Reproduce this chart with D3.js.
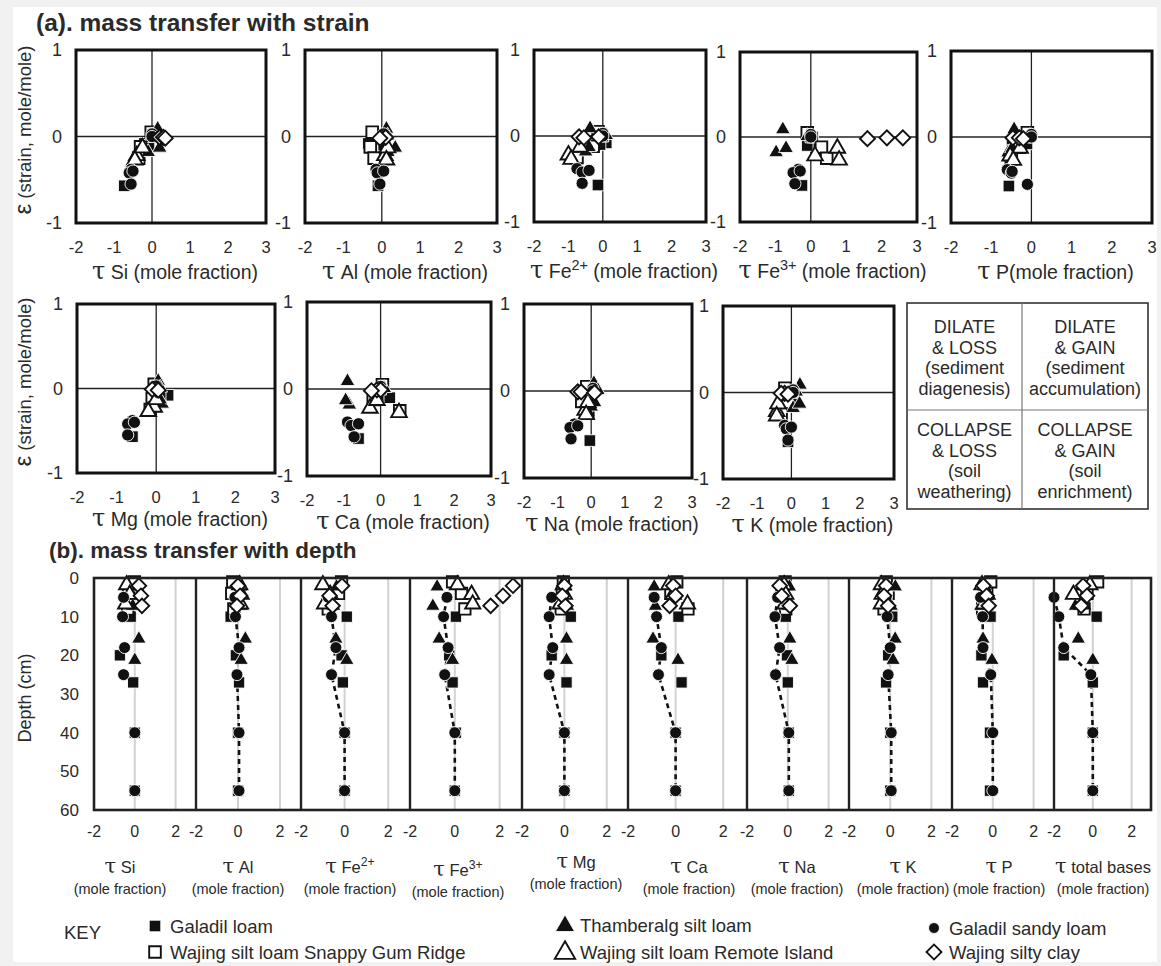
<!DOCTYPE html>
<html>
<head>
<meta charset="utf-8">
<script src="https://cdn.jsdelivr.net/npm/d3@7"></script>
<style>
  body { margin: 0; background: #fff; }
  svg text { font-family: "Liberation Sans", Arial, sans-serif; fill: #2a2a2a; }
</style>
</head>
<body>
<svg id="fig" width="1161" height="966"></svg>
<script>
// ------------------------------------------------------------------
// Data: tau (mole fraction) per element, strain and depth per sample
// element order for every tau row below
const elements = ["Si", "Al", "Fe2+", "Fe3+", "Mg", "Ca", "Na", "K", "P", "total bases"];

const seriesNames = [
  "Galadil loam",
  "Wajing silt loam Snappy Gum Ridge",
  "Thamberalg silt loam",
  "Wajing silt loam Remote Island",
  "Galadil sandy loam",
  "Wajing silty clay"
];
const seriesSymbols = ["square", "square", "triangle", "triangle", "circle", "diamond"];
const seriesFilled  = [true, false, true, false, true, false];

// Galadil loam
const galadilLoamDepth  = [10, 20, 27, 40, 55];
const galadilLoamStrain = [-0.08, -0.57, -0.1, 0, 0];
const galadilLoamTau = [
  [-0.2, -0.73, -0.08, 0, 0],      // Si
  [-0.35, -0.1, 0.05, 0, 0],       // Al
  [0.1, -0.14, -0.08, 0, 0],       // Fe2+
  [0.05, -0.25, -0.1, 0.05, 0],    // Fe3+
  [0.3, -0.6, 0.1, 0, 0],          // Mg
  [0.12, -0.6, 0.25, 0, 0],        // Ca
  [-0.1, -0.04, 0, 0.05, 0.05],    // Na
  [0.1, -0.1, -0.2, 0, 0],         // K
  [-0.11, -0.56, -0.48, -0.14, -0.14], // P
  [0.2, -1.5, 0, 0, 0]             // total bases
];

// Wajing silt loam, Snappy Gum Ridge
const snappyGumDepth  = [1, 4, 8];
const snappyGumStrain = [0.05, -0.12, -0.25];
const snappyGumTau = [
  [-0.02, -0.3, -0.35],
  [-0.25, -0.3, -0.2],
  [-0.14, -0.28, -0.75],
  [-0.1, 0.3, 0.45],
  [-0.05, -0.1, -0.15],
  [0.05, -0.2, 0.52],
  [-0.13, -0.28, -0.1],
  [-0.19, -0.1, -0.3],
  [-0.1, -0.3, -0.5],
  [0.25, -0.3, -0.45]
];

// Thamberalg silt loam
const thamberalgDepth  = [2, 7, 15.5, 21];
const thamberalgStrain = [0.1, -0.17, -0.12, 0.02];
const thamberalgTau = [
  [0.15, -0.1, 0.2, 0],
  [0.12, 0.16, 0.35, 0.15],
  [-0.37, -0.5, -0.4, 0.1],
  [-0.79, -0.98, -0.7, -0.1],
  [0.05, 0.15, 0.1, 0.1],
  [-0.9, -0.85, -0.95, 0.1],
  [0.08, 0.0, 0.1, 0.2],
  [0.25, 0.05, 0.24, 0.14],
  [-0.43, -0.58, -0.48, -0.04],
  [-0.6, -0.9, -0.75, 0]
];

// Wajing silt loam, Remote Island
const remoteIslandDepth  = [1.5, 4, 6.5];
const remoteIslandStrain = [-0.21, -0.12, -0.26];
const remoteIslandTau = [
  [-0.4, -0.25, -0.45],
  [0.08, 0.15, 0.12],
  [-1.0, -0.66, -0.92],
  [0.12, 0.75, 0.8],
  [-0.05, 0.0, -0.2],
  [-0.29, -0.1, 0.5],
  [-0.18, -0.1, -0.15],
  [-0.43, -0.39, -0.43],
  [-0.53, -0.28, -0.45],
  [-0.15, -1.0, -0.55]
];

// Galadil sandy loam (profile traced with a dashed line)
const galadilSandyDepth  = [5, 10, 18, 25, 40, 55];
const galadilSandyStrain = [-0.38, -0.42, -0.40, -0.55, 0.03, 0];
const galadilSandyTau = [
  [-0.55, -0.6, -0.5, -0.55, 0, 0],
  [-0.15, -0.12, 0.05, -0.05, 0.05, 0.05],
  [-0.75, -0.6, -0.4, -0.6, 0, 0],
  [-0.35, -0.5, -0.3, -0.45, 0, 0],
  [-0.6, -0.72, -0.55, -0.72, 0, 0],
  [-0.9, -0.8, -0.6, -0.72, 0, 0],
  [-0.5, -0.63, -0.4, -0.6, 0.05, 0.05],
  [-0.2, -0.15, 0.0, -0.1, 0.05, 0.05],
  [-0.6, -0.5, -0.48, -0.1, 0, 0],
  [-2.0, -1.75, -1.5, -0.1, 0, 0]
];

// Wajing silty clay
const siltyClayDepth  = [2, 4.6, 7.2];
const siltyClayStrain = [-0.01, -0.01, -0.02];
const siltyClayTau = [
  [0.2, 0.3, 0.35],
  [0.0, 0.1, -0.05],
  [-0.12, -0.69, -0.55],
  [2.6, 2.15, 1.6],
  [0.0, -0.1, 0.05],
  [-0.1, 0.0, -0.25],
  [-0.4, -0.3, 0.1],
  [-0.2, -0.3, -0.1],
  [-0.46, -0.3, -0.2],
  [-0.5, -0.3, -0.6]
];

const seriesDepth  = [galadilLoamDepth, snappyGumDepth, thamberalgDepth, remoteIslandDepth, galadilSandyDepth, siltyClayDepth];
const seriesStrain = [galadilLoamStrain, snappyGumStrain, thamberalgStrain, remoteIslandStrain, galadilSandyStrain, siltyClayStrain];
const seriesTau    = [galadilLoamTau, snappyGumTau, thamberalgTau, remoteIslandTau, galadilSandyTau, siltyClayTau];
const profileSeries = 4;            // series joined by the dashed depth profile

const strainTicks = [1, 0, -1];
const tauTicksStrain = [-2, -1, 0, 1, 2, 3];
const tauTicksDepth = [-2, 0, 2];
const depthTicks = [0, 10, 20, 30, 40, 50, 60];

const quadrantText = [
  ["DILATE", "& LOSS", "(sediment", "diagenesis)"],
  ["DILATE", "& GAIN", "(sediment", "accumulation)"],
  ["COLLAPSE", "& LOSS", "(soil", "weathering)"],
  ["COLLAPSE", "& GAIN", "(soil", "enrichment)"]
];

// ------------------------------------------------------------------
const W = 1161, H = 966;
const svg = d3.select("#fig");
svg.append("rect").attr("width", W).attr("height", H).attr("fill", "#f1f1f1");
svg.append("rect").attr("x", 13).attr("y", 7).attr("width", 1144).attr("height", 955).attr("fill", "#fff");

const symbolType = { square: d3.symbolSquare, triangle: d3.symbolTriangle, circle: d3.symbolCircle, diamond: d3.symbolSquare };
const filledArea = { square: 135, triangle: 95, circle: 118, diamond: 110 };
const openArea   = { square: 135, triangle: 105, circle: 118, diamond: 112 };

function marker(g, kind, filled, x, y, k) {
  const area = (filled ? filledArea : openArea)[kind] * k;
  g.append("path")
    .attr("d", d3.symbol(symbolType[kind], area)())
    .attr("transform", `translate(${x},${y})` + (kind === "diamond" ? " rotate(45)" : "") + (kind === "triangle" ? " translate(0,1)" : ""))
    .attr("fill", filled ? "#111" : "#fff")
    .attr("stroke", filled ? "#fff" : "#111")
    .attr("stroke-width", filled ? 0.9 : 1.9);
}

// τ + element name with charge as superscript
function tauLabel(text, label, size, tauSize, suffix, supShift) {
  text.append("tspan").attr("font-family", "'DejaVu Serif', serif").attr("font-size", tauSize).text("τ");
  const m = label.match(/^(.*?)(\d\+)?$/);
  text.append("tspan").text(" " + m[1]);
  if (m[2]) {
    text.append("tspan").attr("dy", -supShift).attr("font-size", size * 0.74).text(m[2]);
    if (suffix) text.append("tspan").attr("dy", supShift).text(suffix);
  } else if (suffix) {
    text.append("tspan").text(suffix);
  }
}

// ------------------------------------------------------------------
// (a) strain vs tau panels
svg.append("text").attr("x", 36).attr("y", 31)
  .attr("font-size", 24.5).attr("font-weight", "bold").attr("fill", "#1e1e1e")
  .text("(a). mass transfer with strain");

const strainPanels = [
  { el: 0, x0: 76,  x1: 266,  y0: 50,  y1: 223, suffix: " (mole fraction)" },
  { el: 1, x0: 305, x1: 497,  y0: 50,  y1: 223, suffix: " (mole fraction)" },
  { el: 2, x0: 534, x1: 706,  y0: 50,  y1: 222, suffix: " (mole fraction)" },
  { el: 3, x0: 740, x1: 917,  y0: 52,  y1: 222, suffix: " (mole fraction)" },
  { el: 8, x0: 951, x1: 1152, y0: 51,  y1: 223, suffix: "(mole fraction)" },
  { el: 4, x0: 77,  x1: 275,  y0: 304, y1: 473, suffix: " (mole fraction)" },
  { el: 5, x0: 307, x1: 491,  y0: 302, y1: 476, suffix: " (mole fraction)" },
  { el: 6, x0: 524, x1: 692,  y0: 304, y1: 478, suffix: " (mole fraction)" },
  { el: 7, x0: 723, x1: 894,  y0: 306, y1: 479, suffix: " (mole fraction)" }
];

strainPanels.forEach((p, pi) => {
  const x = d3.scaleLinear().domain([-2, 3]).range([p.x0, p.x1]);
  const y = d3.scaleLinear().domain([-1, 1]).range([p.y1, p.y0]);
  const g = svg.append("g");

  g.append("line").attr("x1", x(0)).attr("x2", x(0)).attr("y1", p.y0).attr("y2", p.y1)
    .attr("stroke", "#222").attr("stroke-width", 1.3);
  g.append("line").attr("x1", p.x0).attr("x2", p.x1).attr("y1", y(0)).attr("y2", y(0))
    .attr("stroke", "#222").attr("stroke-width", 1.3);

  const pts = g.append("g");
  seriesTau.forEach((tau, s) => {
    tau[p.el].forEach((t, i) => {
      marker(pts, seriesSymbols[s], seriesFilled[s], x(t), y(seriesStrain[s][i]), 1);
    });
  });

  g.append("rect").attr("x", p.x0).attr("y", p.y0).attr("width", p.x1 - p.x0).attr("height", p.y1 - p.y0)
    .attr("fill", "none").attr("stroke", "#111").attr("stroke-width", 3);

  tauTicksStrain.forEach(v => {
    g.append("text").attr("x", x(v)).attr("y", p.y1 + 30).attr("text-anchor", "middle")
      .attr("font-size", 16.5).attr("fill", "#3a3a3a").text(v);
  });
  strainTicks.forEach(v => {
    g.append("text").attr("x", p.x0 - 14).attr("y", y(v) + 6).attr("text-anchor", "end")
      .attr("font-size", 18).attr("fill", "#3a3a3a").text(v);
  });

  const t = g.append("text").attr("x", (p.x0 + p.x1) / 2 + 4).attr("y", p.y1 + (pi < 5 ? 56 : 53))
    .attr("text-anchor", "middle").attr("font-size", 19.5).attr("fill", "#222");
  tauLabel(t, elements[p.el], 19.5, 24, p.suffix, 8);
});

// strain axis titles
[130, 382].forEach(cy => {
  const t = svg.append("text").attr("transform", `translate(31,${cy}) rotate(-90)`)
    .attr("text-anchor", "middle").attr("font-size", 18.5).attr("fill", "#222");
  t.append("tspan").attr("font-size", 24).text("ε");
  t.append("tspan").text(" (strain, mole/mole)");
});

// quadrant interpretation box
const qb = { x0: 907, x1: 1148, y0: 303, y1: 509, xm: 1022, ym: 410 };
svg.append("rect").attr("x", qb.x0).attr("y", qb.y0).attr("width", qb.x1 - qb.x0).attr("height", qb.y1 - qb.y0)
  .attr("fill", "#fff").attr("stroke", "#333").attr("stroke-width", 1.6);
svg.append("line").attr("x1", qb.xm).attr("x2", qb.xm).attr("y1", qb.y0).attr("y2", qb.y1).attr("stroke", "#777").attr("stroke-width", 1.2);
svg.append("line").attr("x1", qb.x0).attr("x2", qb.x1).attr("y1", qb.ym).attr("y2", qb.ym).attr("stroke", "#777").attr("stroke-width", 1.2);
quadrantText.forEach((lines, q) => {
  const cx = q % 2 === 0 ? (qb.x0 + qb.xm) / 2 : (qb.xm + qb.x1) / 2;
  const top = q < 2 ? 333 : 436;
  lines.forEach((ln, i) => {
    svg.append("text").attr("x", cx).attr("y", top + i * 20.5).attr("text-anchor", "middle")
      .attr("font-size", 18).attr("fill", "#2a2a2a").text(ln);
  });
});

// ------------------------------------------------------------------
// (b) tau vs depth panels
svg.append("text").attr("x", 49).attr("y", 558)
  .attr("font-size", 22.5).attr("font-weight", "bold").attr("fill", "#1e1e1e")
  .text("(b). mass transfer with depth");

const depthEdges = [94, 196, 301, 410, 522, 628, 747, 849, 952, 1054, 1151];
const depthTop = 578, depthBottom = 810;
const yD = d3.scaleLinear().domain([0, 60]).range([depthTop, depthBottom]);
const titleCenters = [120, 238, 350, 458, 576, 689, 797, 903, 999, 1103];
const titleDrop = [0, 0, 0, 3, -5, 0, 0, 0, 0, 0];

const depthG = svg.append("g");
elements.forEach((el, e) => {
  const x = d3.scaleLinear().domain([-2, 3]).range([depthEdges[e], depthEdges[e + 1]]);
  const g = depthG.append("g");
  [0, 2].forEach(v => {
    g.append("line").attr("x1", x(v)).attr("x2", x(v)).attr("y1", depthTop).attr("y2", depthBottom)
      .attr("stroke", "#d2d2d2").attr("stroke-width", 2);
  });

  if (e !== 0) {
    const d = seriesDepth[profileSeries];
    const line = d3.line().x((v, i) => x(v)).y((v, i) => yD(d[i]));
    g.append("path").attr("d", line(seriesTau[profileSeries][e]))
      .attr("fill", "none").attr("stroke", "#111").attr("stroke-width", 2.6).attr("stroke-dasharray", "5,4");
  }

  seriesTau.forEach((tau, s) => {
    tau[e].forEach((t, i) => {
      marker(g, seriesSymbols[s], seriesFilled[s], x(t), yD(seriesDepth[s][i]), 0.95);
    });
  });

  tauTicksDepth.forEach(v => {
    depthG.append("text").attr("x", x(v)).attr("y", 837).attr("text-anchor", "middle")
      .attr("font-size", 16).attr("fill", "#3a3a3a").text(v);
  });

  const t1 = depthG.append("text").attr("x", titleCenters[e]).attr("y", 873 + titleDrop[e])
    .attr("text-anchor", "middle").attr("font-size", 16.5).attr("fill", "#222");
  tauLabel(t1, el, 16.5, 21, "", 7);
  depthG.append("text").attr("x", titleCenters[e]).attr("y", 894 + titleDrop[e])
    .attr("text-anchor", "middle").attr("font-size", 14.5).attr("fill", "#222").text("(mole fraction)");
});

// frame and panel dividers
depthG.append("rect").attr("x", depthEdges[0]).attr("y", depthTop)
  .attr("width", depthEdges[depthEdges.length - 1] - depthEdges[0]).attr("height", depthBottom - depthTop)
  .attr("fill", "none").attr("stroke", "#222").attr("stroke-width", 2.6);
depthEdges.slice(1, -1).forEach(xe => {
  depthG.append("line").attr("x1", xe).attr("x2", xe).attr("y1", depthTop).attr("y2", depthBottom)
    .attr("stroke", "#222").attr("stroke-width", 2.4);
});

depthTicks.forEach(v => {
  depthG.append("text").attr("x", 79).attr("y", yD(v) + 6).attr("text-anchor", "end")
    .attr("font-size", 17).attr("fill", "#3a3a3a").text(v);
});
svg.append("text").attr("transform", "translate(31,698) rotate(-90)").attr("text-anchor", "middle")
  .attr("font-size", 18).attr("fill", "#222").text("Depth (cm)");

// ------------------------------------------------------------------
// key
svg.append("text").attr("x", 64).attr("y", 939).attr("font-size", 18.5).attr("fill", "#222").text("KEY");
const keyPos = [
  { x: 155, y: 926 }, { x: 155, y: 952 },
  { x: 565, y: 925 }, { x: 565, y: 952 },
  { x: 934, y: 928 }, { x: 934, y: 952 }
];
const keyG = svg.append("g");
seriesNames.forEach((name, s) => {
  const p = keyPos[s];
  const k = seriesSymbols[s] === "triangle" ? 1.7 : (seriesSymbols[s] === "circle" ? 0.8 : 1.0);
  marker(keyG, seriesSymbols[s], seriesFilled[s], p.x, p.y, k);
  keyG.append("text").attr("x", p.x + 15).attr("y", p.y + 7).attr("font-size", 18.5).attr("fill", "#222").text(name);
});
</script>
</body>
</html>
